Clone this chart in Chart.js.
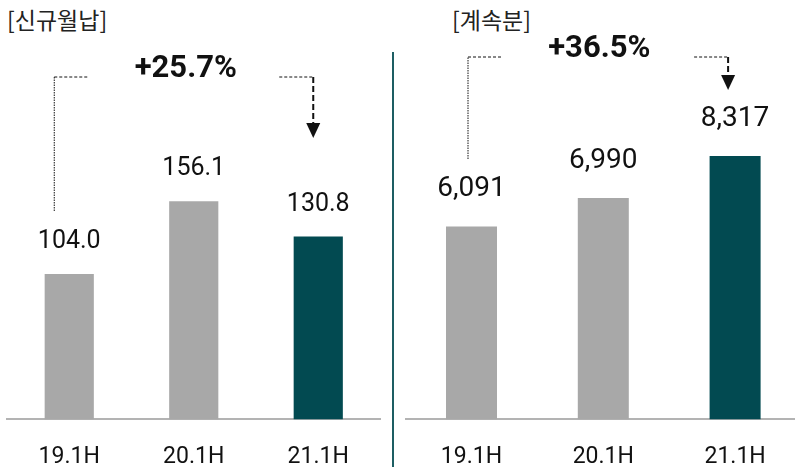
<html>
<head>
<meta charset="utf-8">
<script src="https://cdn.jsdelivr.net/npm/chart.js@4.4.0/dist/chart.umd.min.js"></script>
<style>
  html, body { margin: 0; padding: 0; background: #fff; overflow: hidden; }
  body { width: 795px; height: 471px; position: relative; }
  .box { position: absolute; top: 0; height: 496px; }
  .title { position: absolute; top: 4px; font-family: "Noto Sans CJK KR", sans-serif; font-size: 23px; color: #222; line-height: 30px; }
  #divider { position: absolute; left: 392px; top: 52px; width: 2px; height: 415px; background: #1d5e63; }
</style>
</head>
<body>
<div class="title" style="left:7px">[신규월납]</div>
<div class="title" style="left:452px">[계속분]</div>
<div id="divider"></div>
<div class="box" style="left:0; width:390px"><canvas id="leftChart"></canvas></div>
<div class="box" style="left:400px; width:401px"><canvas id="rightChart"></canvas></div>
<script>
  // data
  var categories = ['19.1H', '20.1H', '21.1H'];
  var newMonthly = [104.0, 156.1, 130.8];
  var renewal = [6091, 6990, 8317];
  var growthNew = '+25.7%';
  var growthRenewal = '+36.5%';

  var GRAY = '#a8a8a8';
  var TEAL = '#024a51';

  // value labels above bars + growth bracket / arrow
  var decoPlugin = {
    id: 'deco',
    afterDatasetsDraw: function (chart, args, opts) {
      var ctx = chart.ctx;
      var meta = chart.getDatasetMeta(0);
      var ds = chart.data.datasets[0];
      ctx.save();
      ctx.fillStyle = '#111';
      ctx.font = opts.valueFont;
      ctx.textAlign = 'center';
      ctx.textBaseline = 'middle';
      meta.data.forEach(function (bar, i) {
        ctx.fillText(opts.fmt(ds.data[i]), bar.x, bar.y - opts.valueGap);
      });

      var x0 = meta.data[0].x + opts.bracketDx;
      var x2 = meta.data[2].x + opts.arrowDx;
      var y = opts.lineY;

      // growth text
      ctx.font = 'bold 31px Roboto';
      ctx.fillText(opts.growth, meta.data[1].x + opts.textDx, y - 8);

      ctx.strokeStyle = '#111';
      // left dotted bracket
      ctx.lineWidth = 1;
      ctx.setLineDash([1.5, 1]);
      ctx.beginPath();
      ctx.moveTo(x0, opts.bracketBottom);
      ctx.lineTo(x0, y);
      ctx.stroke();
      ctx.setLineDash([3, 2]);
      ctx.beginPath();
      ctx.moveTo(x0, y);
      ctx.lineTo(x0 + 35, y);
      ctx.stroke();
      // right dashed line to arrow
      ctx.beginPath();
      ctx.moveTo(x2 - 34, y);
      ctx.lineTo(x2, y);
      ctx.stroke();
      ctx.lineWidth = 2;
      ctx.setLineDash([6, 3]);
      ctx.beginPath();
      ctx.moveTo(x2, y);
      ctx.lineTo(x2, opts.arrowTip - 14);
      ctx.stroke();
      ctx.setLineDash([]);
      ctx.fillStyle = '#111';
      ctx.beginPath();
      ctx.moveTo(x2 - 7, opts.arrowTip - 15);
      ctx.lineTo(x2 + 7, opts.arrowTip - 15);
      ctx.lineTo(x2, opts.arrowTip);
      ctx.closePath();
      ctx.fill();
      ctx.restore();
    }
  };

  function makeChart(id, values, yMax, barPct, pad, deco) {
    return new Chart(document.getElementById(id), {
      type: 'bar',
      data: {
        labels: categories,
        datasets: [{
          data: values,
          backgroundColor: [GRAY, GRAY, TEAL],
          barPercentage: barPct,
          categoryPercentage: 1
        }]
      },
      options: {
        responsive: true,
        maintainAspectRatio: false,
        animation: false,
        layout: { padding: pad },
        plugins: { legend: { display: false }, tooltip: { enabled: false }, deco: deco },
        scales: {
          x: {
            grid: { display: false, drawTicks: false },
            border: { color: '#b3b3b3', width: 2 },
            ticks: { color: '#111', padding: 24, font: { family: 'Roboto', size: 23 } }
          },
          y: { display: false, min: 0, max: yMax }
        }
      },
      plugins: [decoPlugin]
    });
  }

  makeChart('leftChart', newMonthly, 300, 0.395,
    { left: 7, right: 9.5, top: 0, bottom: 1 },
    {
      fmt: function (v) { return v.toFixed(1); },
      valueFont: '25px Roboto', valueGap: 32, growth: growthNew,
      bracketDx: -15, arrowDx: -5, textDx: -8, lineY: 77, bracketBottom: 211, arrowTip: 138
    });

  makeChart('rightChart', renewal, 13240, 0.387,
    { left: 5.6, right: 0, top: 0, bottom: 1 },
    {
      fmt: function (v) { return v.toLocaleString('en-US'); },
      valueFont: '28px Roboto', valueGap: 37, growth: growthRenewal,
      bracketDx: -3.5, arrowDx: -7, textDx: -4, lineY: 57, bracketBottom: 159, arrowTip: 90
    });
</script>
</body>
</html>
